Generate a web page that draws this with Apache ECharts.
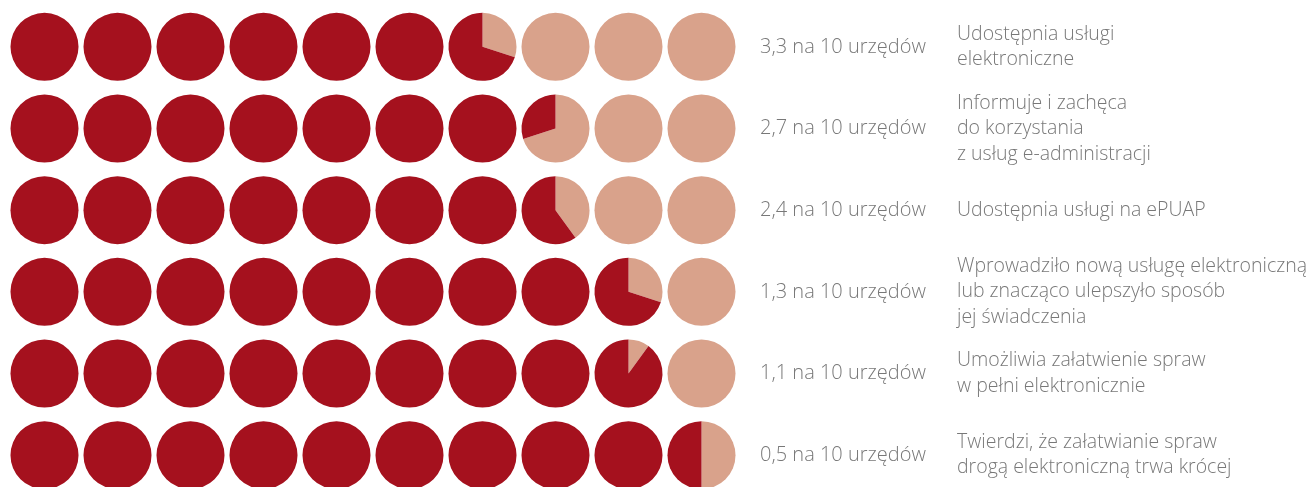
<!DOCTYPE html>
<html><head><meta charset="utf-8">
<script src="https://cdn.jsdelivr.net/npm/echarts@6/dist/echarts.min.js"></script>
<style>html,body{margin:0;padding:0;background:#fff}#c{width:1310px;height:487px}</style>
</head><body><div id="c"></div>
<script>
const values = [3.3, 2.7, 2.4, 1.3, 1.1, 0.5];
const valueLabels = ['3,3 na 10 urzędów', '2,7 na 10 urzędów', '2,4 na 10 urzędów', '1,3 na 10 urzędów', '1,1 na 10 urzędów', '0,5 na 10 urzędów'];
const descriptions = [
  'Udostępnia usługi\nelektroniczne',
  'Informuje i zachęca\ndo korzystania\nz usług e-administracji',
  'Udostępnia usługi na ePUAP',
  'Wprowadziło nową usługę elektroniczną\nlub znacząco ulepszyło sposób\njej świadczenia',
  'Umożliwia załatwienie spraw\nw pełni elektronicznie',
  'Twierdzi, że załatwianie spraw\ndrogą elektroniczną trwa krócej'
];
const total = 10;

const DARK = '#A5111E', LIGHT = '#D9A28B', TEXT = '#787878';
const FONT = '"Open Sans"';

const cells = [];
values.forEach((v, r) => {
  for (let i = 0; i < total; i++) {
    const dark = Math.max(0, Math.min(1, total - v - i));
    cells.push([i, r, dark]);
  }
});

const chart = echarts.init(document.getElementById('c'), null, {renderer: 'canvas'});
chart.setOption({
  animation: false,
  grid: {left: 8, top: 6, width: 730, height: 490, outerBoundsMode: 'none', containLabel: false},
  xAxis: {type: 'value', min: -0.5, max: 9.5, show: false},
  yAxis: [
    {type: 'category', data: valueLabels, inverse: true, position: 'right',
     axisLine: {show: false}, axisTick: {show: false}, splitLine: {show: false},
     axisLabel: {margin: 22, align: 'left', color: TEXT, fontFamily: FONT, fontWeight: 300, fontSize: 20, padding: [2, 0, 0, 0]}},
    {type: 'category', data: descriptions, inverse: true, position: 'right', offset: 0,
     axisLine: {show: false}, axisTick: {show: false}, splitLine: {show: false},
     axisLabel: {margin: 219, align: 'left', color: TEXT, fontFamily: FONT, fontWeight: 300, fontSize: 19.5, lineHeight: 25.5, padding: [5, 0, 0, 0]}}
  ],
  series: [{
    type: 'custom',
    data: cells,
    renderItem: function (params, api) {
      const c = api.coord([api.value(0), api.value(1)]);
      const r = api.size([1, 0])[0] * 0.466;
      const dark = api.value(2);
      const light = 1 - dark;
      const top = -Math.PI / 2;
      const children = [];
      if (light > 0) {
        children.push({type: 'sector', shape: {cx: c[0], cy: c[1], r: r, r0: 0,
          startAngle: top, endAngle: top + 2 * Math.PI * light, clockwise: true},
          style: {fill: LIGHT}});
      }
      if (dark > 0) {
        children.push({type: 'sector', shape: {cx: c[0], cy: c[1], r: r, r0: 0,
          startAngle: top + 2 * Math.PI * light, endAngle: top + 2 * Math.PI, clockwise: true},
          style: {fill: DARK}});
      }
      return {type: 'group', children: children};
    }
  }]
});
</script></body></html>
